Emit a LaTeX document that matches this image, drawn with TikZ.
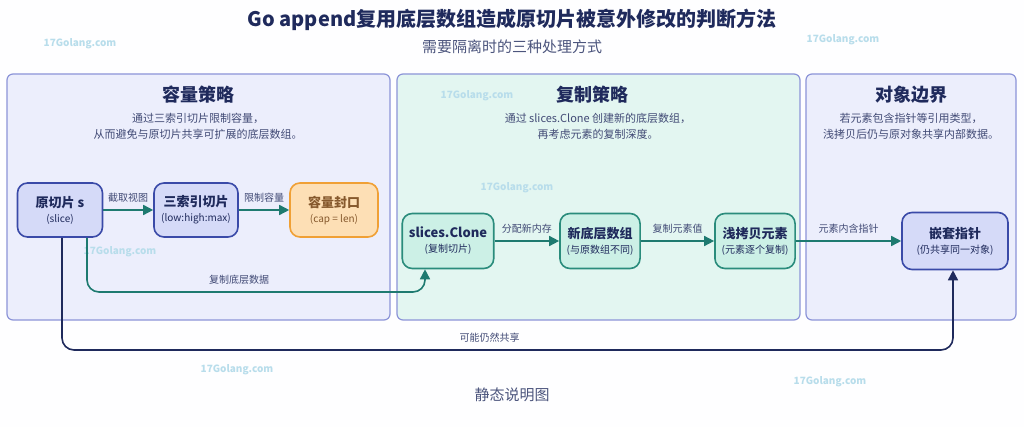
\documentclass[tikz,border=0pt]{standalone}
\usepackage{fontspec}
\setmainfont{Noto Sans CJK SC}
\usetikzlibrary{arrows.meta,positioning}
\definecolor{navy}{HTML}{1F2A5C}
\definecolor{panelA}{HTML}{ECEEFC}
\definecolor{panelB}{HTML}{E3F6F1}
\definecolor{panelLine}{HTML}{8C94D8}
\definecolor{boxA}{HTML}{D5DAF8}
\definecolor{lineA}{HTML}{3A4AA8}
\definecolor{boxB}{HTML}{CCF0E6}
\definecolor{lineB}{HTML}{2A8C7C}
\definecolor{boxC}{HTML}{FDDFB5}
\definecolor{lineC}{HTML}{F0A035}
\definecolor{teal}{HTML}{1E7A70}
\definecolor{mark}{HTML}{B8DDEB}
\newcommand{\boxtext}[2]{{\fontsize{6.5}{7}\selectfont\bfseries #1}\\{\fontsize{5}{7}\selectfont #2}}
\tikzset{
  panel/.style={draw=panelLine, line width=0.6pt, rounded corners=3pt},
  box/.style={draw, line width=0.8pt, rounded corners=5pt, align=center, text=navy,
    font=\fontsize{5}{7.5}\selectfont},
  flow/.style={-{Triangle[length=5pt,width=5pt]}, teal, line width=0.8pt, rounded corners=6pt},
  share/.style={-{Triangle[length=5pt,width=5pt]}, navy, line width=0.8pt, rounded corners=6pt},
  lbl/.style={font=\fontsize{5}{6}\selectfont, text=navy!85},
  wm/.style={font=\fontsize{5}{6}\selectfont\bfseries, text=mark}
}
\begin{document}
\begin{tikzpicture}[x=0.5pt,y=-0.5pt]
  \fill[white!94!blue!5] (0,0) rectangle (1024,427);
  \useasboundingbox (0,0) rectangle (1024,427);

  % headings
  \node[font=\fontsize{10}{12}\selectfont\bfseries, text=navy] (title) at (512,20)
    {Go append复用底层数组造成原切片被意外修改的判断方法};
  \node[font=\fontsize{7.5}{9}\selectfont, text=navy!80] (subtitle) at (512,47) {需要隔离时的三种处理方式};

  % panels
  \draw[panel, fill=panelA] (7,74) rectangle (390,320);
  \draw[panel, fill=panelB] (397,74) rectangle (800,320);
  \draw[panel, fill=panelA] (806,74) rectangle (1016,320);

  % watermarks
  \foreach \wx/\wy in {80/44, 843/40, 477/96, 517/188, 120/252, 237/370, 830/382}
    \node[wm] at (\wx,\wy) {17Golang.com};

  \node[font=\fontsize{9}{11}\selectfont\bfseries, text=navy] at (198,95) {容量策略};
  \node[lbl, align=center, font=\fontsize{5.5}{8}\selectfont] at (198,126)
    {通过三索引切片限制容量，\\从而避免与原切片共享可扩展的底层数组。};
  \node[font=\fontsize{9}{11}\selectfont\bfseries, text=navy] at (592,95) {复制策略};
  \node[lbl, align=center, font=\fontsize{5.5}{8}\selectfont] at (598,126)
    {通过 slices.Clone 创建新的底层数组，\\再考虑元素的复制深度。};
  \node[font=\fontsize{9}{11}\selectfont\bfseries, text=navy] at (911,95) {对象边界};
  \node[lbl, align=center, font=\fontsize{5.5}{8}\selectfont] at (911,126)
    {若元素包含指针等引用类型，\\浅拷贝后仍与原对象共享内部数据。};

  % nodes
  \node[box, draw=lineA, fill=boxA, minimum width=42.5pt, minimum height=27pt] (orig) at (60,210)
    {\boxtext{原切片 s}{(slice)}};
  \node[box, draw=lineA, fill=boxA, minimum width=42pt, minimum height=27pt] (three) at (196,210)
    {\boxtext{三索引切片}{(low:high:max)}};
  \node[box, draw=lineC, fill=boxC, minimum width=44pt, minimum height=27pt, text=brown!70!black] (cap) at (334,210)
    {\boxtext{容量封口}{(cap = len)}};
  \node[box, draw=lineB, fill=boxB, minimum width=37pt, minimum height=27.5pt] (clone) at (448,241)
    {\boxtext{slices.Clone}{(复制切片)}};
  \node[box, draw=lineB, fill=boxB, minimum width=37pt, minimum height=27.5pt] (newarr) at (600,241)
    {\boxtext{新底层数组}{(与原数组不同)}};
  \node[box, draw=lineB, fill=boxB, minimum width=40pt, minimum height=27.5pt] (shallow) at (755,241)
    {\boxtext{浅拷贝元素}{(元素逐个复制)}};
  \node[box, draw=lineA, fill=boxA, minimum width=53pt, minimum height=28.5pt] (nested) at (955,241)
    {\boxtext{嵌套指针}{(仍共享同一对象)}};

  % connectors
  \draw[flow] (orig) -- node[lbl, above] {截取视图} (three);
  \draw[flow] (three) -- node[lbl, above] {限制容量} (cap);
  \draw[flow] (clone) -- node[lbl, above] {分配新内存} (newarr);
  \draw[flow] (newarr) -- node[lbl, above] {复制元素值} (shallow);
  \draw[flow] (shallow) -- node[lbl, above] {元素内含指针} (nested);
  \draw[flow] (orig.south -| 87,0) -- (87,292) -- node[lbl, above, pos=0.45] {复制底层数据} (425,292) -- (clone.south -| 425,0);
  \draw[share] (orig.south -| 62,0) -- (62,350) -- node[lbl, above, pos=0.48] {可能仍然共享} (953,350) -- (nested.south -| 953,0);

  \node[font=\fontsize{7.5}{9}\selectfont, text=navy!80] (caption) at (512,395) {静态说明图};
\end{tikzpicture}
\end{document}
